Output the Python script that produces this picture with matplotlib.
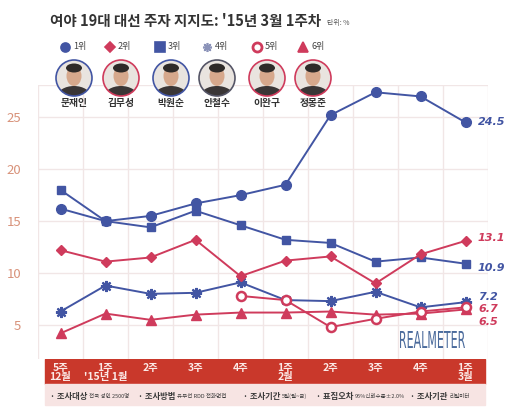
import numpy as np
import matplotlib
matplotlib.use('Agg')
import matplotlib.pyplot as plt
from matplotlib.patches import Rectangle, Ellipse, PathPatch
from matplotlib.lines import Line2D
from matplotlib.textpath import TextPath
from matplotlib.font_manager import FontProperties
from matplotlib.transforms import Affine2D

plt.rcParams['font.family'] = ['Noto Sans CJK KR', 'DejaVu Sans']

# data
weeks = ['5주\n12월', "1주\n'15년 1월", '2주', '3주', '4주', '1주\n2월', '2주', '3주', '4주', '1주\n3월']
names = ['문재인', '김무성', '박원순', '안철수', '이완구', '정몽준']
ranks = ['1위', '2위', '3위', '4위', '5위', '6위']
moon = [16.2, 15.0, 15.5, 16.7, 17.5, 18.5, 25.2, 27.4, 27.0, 24.5]
kim = [12.2, 11.1, 11.5, 13.2, 9.7, 11.2, 11.6, 9.0, 11.8, 13.1]
park = [18.0, 15.0, 14.4, 16.0, 14.6, 13.2, 12.9, 11.1, 11.5, 10.9]
ahn = [6.3, 8.8, 8.0, 8.1, 9.1, 7.4, 7.3, 8.2, 6.7, 7.2]
lee = [np.nan, np.nan, np.nan, np.nan, 7.8, 7.4, 4.8, 5.6, 6.3, 6.7]
chung = [4.2, 6.1, 5.5, 6.0, 6.2, 6.2, 6.3, 6.0, 6.1, 6.5]
yticks = [5, 10, 15, 20, 25]

BLUE = '#4255a3'
RED = '#cf3b5c'
W, H = 520, 413

def fx(px):
    return px / W

def fy(py):
    return 1 - py / H

fig = plt.figure(figsize=(5.2, 4.13), dpi=100)
fig.patch.set_facecolor('white')

ax = fig.add_axes([fx(38), fy(359), (488 - 38) / W, (359 - 85) / H])
ax.set_xlim(-0.5, 9.5)
ax.set_ylim(1.73, 28.1)
for s in ax.spines.values():
    s.set_visible(False)

ax.set_yticks(yticks)
ax.set_yticklabels([str(v) for v in yticks], color='#d8927a', fontsize=9.5)
ax.tick_params(axis='y', length=0, pad=12)
ax.set_xticks(range(10))
ax.set_xticklabels(weeks, color='#fbe9e6', fontweight='bold', fontsize=7.5, linespacing=0.8)
ax.tick_params(axis='x', length=0, pad=3)
ax.set_xticks(np.arange(-0.5, 10, 1), minor=True)
ax.tick_params(axis='x', which='minor', length=0)
ax.grid(which='minor', axis='x', color='#f1e6e6', lw=1)
ax.grid(which='major', axis='y', color='#f1e6e6', lw=1)
ax.grid(which='major', axis='x', visible=False)
ax.axhline(28.1, color='#f1e6e6', lw=1)

x = np.arange(10)
lw = 1.4
ax.plot(x, moon, color=BLUE, lw=lw, marker='o', ms=7, zorder=5)
ax.plot(x, park, color=BLUE, lw=lw, marker='s', ms=6, zorder=5)
ax.plot(x, ahn, color=BLUE, lw=lw, marker=(8, 2, 0), ms=8, mew=1.6, zorder=5)
ax.plot(x, kim, color=RED, lw=lw, marker='D', ms=5.5, zorder=5)
ax.plot(x, lee, color=RED, lw=lw, marker='o', ms=6.5, mfc='white', mew=1.8, zorder=6)
ax.plot(x, chung, color=RED, lw=lw, marker='^', ms=7, zorder=5)

# end value labels
ends = [(moon[-1], BLUE, 0), (kim[-1], RED, 2), (park[-1], BLUE, -3),
        (ahn[-1], BLUE, 3.5), (lee[-1], RED, -1.5), (chung[-1], RED, -9)]
for v, c, dy in ends:
    ax.annotate(f'{v:.1f}', xy=(9, v), xytext=(9, dy), textcoords='offset points',
                color=c, fontsize=8, fontweight='bold', style='italic',
                family='DejaVu Sans', va='center', ha='left', annotation_clip=False)

# bands under the chart
fig.add_artist(Rectangle((fx(45), fy(384)), (485 - 45) / W, 25 / H,
                         transform=fig.transFigure, color='#c9382b', zorder=-1))
fig.add_artist(Rectangle((fx(45), fy(405)), (485 - 45) / W, 21 / H,
                         transform=fig.transFigure, color='#f7e4e3', zorder=-1))

foot = [(50, '· 조사대상', 6.0), (89, '전국 성인 2500명', 4.0),
        (138, '· 조사방법', 6.0), (177, '유무선 RDD 전화면접', 4.0),
        (243, '· 조사기간', 6.0), (282, '5일(월~금)', 4.0),
        (316, '· 표집오차', 6.0), (355, '95%신뢰수준±2.0%', 4.0),
        (410, '· 조사기관', 6.0), (449, '리얼미터', 4.0)]
for px, t, fs in foot:
    fig.text(fx(px), fy(396), t, fontsize=fs, color='#3a3a3a', va='center', ha='left',
             fontweight='bold' if fs > 5 else 'normal')

# REALMETER logo, squeezed to the narrow width of the original
tp = TextPath((0, 0), 'REALMETER', size=1, prop=FontProperties(family='DejaVu Sans'))
ext = tp.get_extents()
sx = 65 / ext.width / W
sy = 17 / ext.height / H
tr = Affine2D().translate(-ext.x0, -ext.y0).scale(sx, sy).translate(fx(400), fy(348)) + fig.transFigure
fig.add_artist(PathPatch(tp, transform=tr, facecolor='#4b6b9c', edgecolor='none'))

# title
fig.text(fx(50), fy(21), "여야 19대 대선 주자 지지도: '15년 3월 1주차", fontsize=10.5,
         fontweight='bold', color='#333333', va='center')
fig.text(fx(327), fy(23), '단위: %', fontsize=5, color='#555555', va='center')

# legend row
leg = [(65, 'o', BLUE, BLUE), (110, 'D', RED, RED), (160, 's', BLUE, BLUE),
       (207, (8, 2, 0), '#8a92b8', '#8a92b8'), (257, 'o', 'white', RED), (303, '^', RED, RED)]
for (px, m, fc, ec), r in zip(leg, ranks):
    fig.add_artist(Line2D([fx(px)], [fy(47)], marker=m, ms=6.5 if m != 'D' else 5.5,
                          mfc=fc, mec=ec, mew=2 if fc == 'white' else 1.2,
                          transform=fig.transFigure, linestyle='none'))
    fig.text(fx(px + 8), fy(47), r, fontsize=6.5, color='#444444', va='center')

# portraits
cx = [74, 121, 171, 217, 267, 313]
ring = [BLUE, RED, BLUE, '#555566', RED, RED]
for px, nm, rc in zip(cx, names, ring):
    bg = Ellipse((fx(px), fy(78)), 36 / W, 36 / H, transform=fig.transFigure,
                 facecolor='#e9e4df', edgecolor='none', zorder=2)
    fig.add_artist(bg)
    suit = Ellipse((fx(px), fy(97)), 34 / W, 22 / H, transform=fig.transFigure,
                   facecolor='#3a3636', edgecolor='none', zorder=3)
    fig.add_artist(suit)
    suit.set_clip_path(bg)
    head = Ellipse((fx(px), fy(76)), 15 / W, 20 / H, transform=fig.transFigure,
                   facecolor='#d6a88c', edgecolor='none', zorder=4)
    fig.add_artist(head)
    hair = Ellipse((fx(px), fy(68)), 16 / W, 9 / H, transform=fig.transFigure,
                   facecolor='#2e2a28', edgecolor='none', zorder=5)
    fig.add_artist(hair)
    fig.add_artist(Ellipse((fx(px), fy(78)), 36 / W, 36 / H, transform=fig.transFigure,
                           facecolor='none', edgecolor=rc, lw=1.2, zorder=6))
    fig.text(fx(px), fy(103), nm, fontsize=7, fontweight='bold', color='#333333',
             ha='center', va='center')

fig.savefig('out.png', dpi=100)
